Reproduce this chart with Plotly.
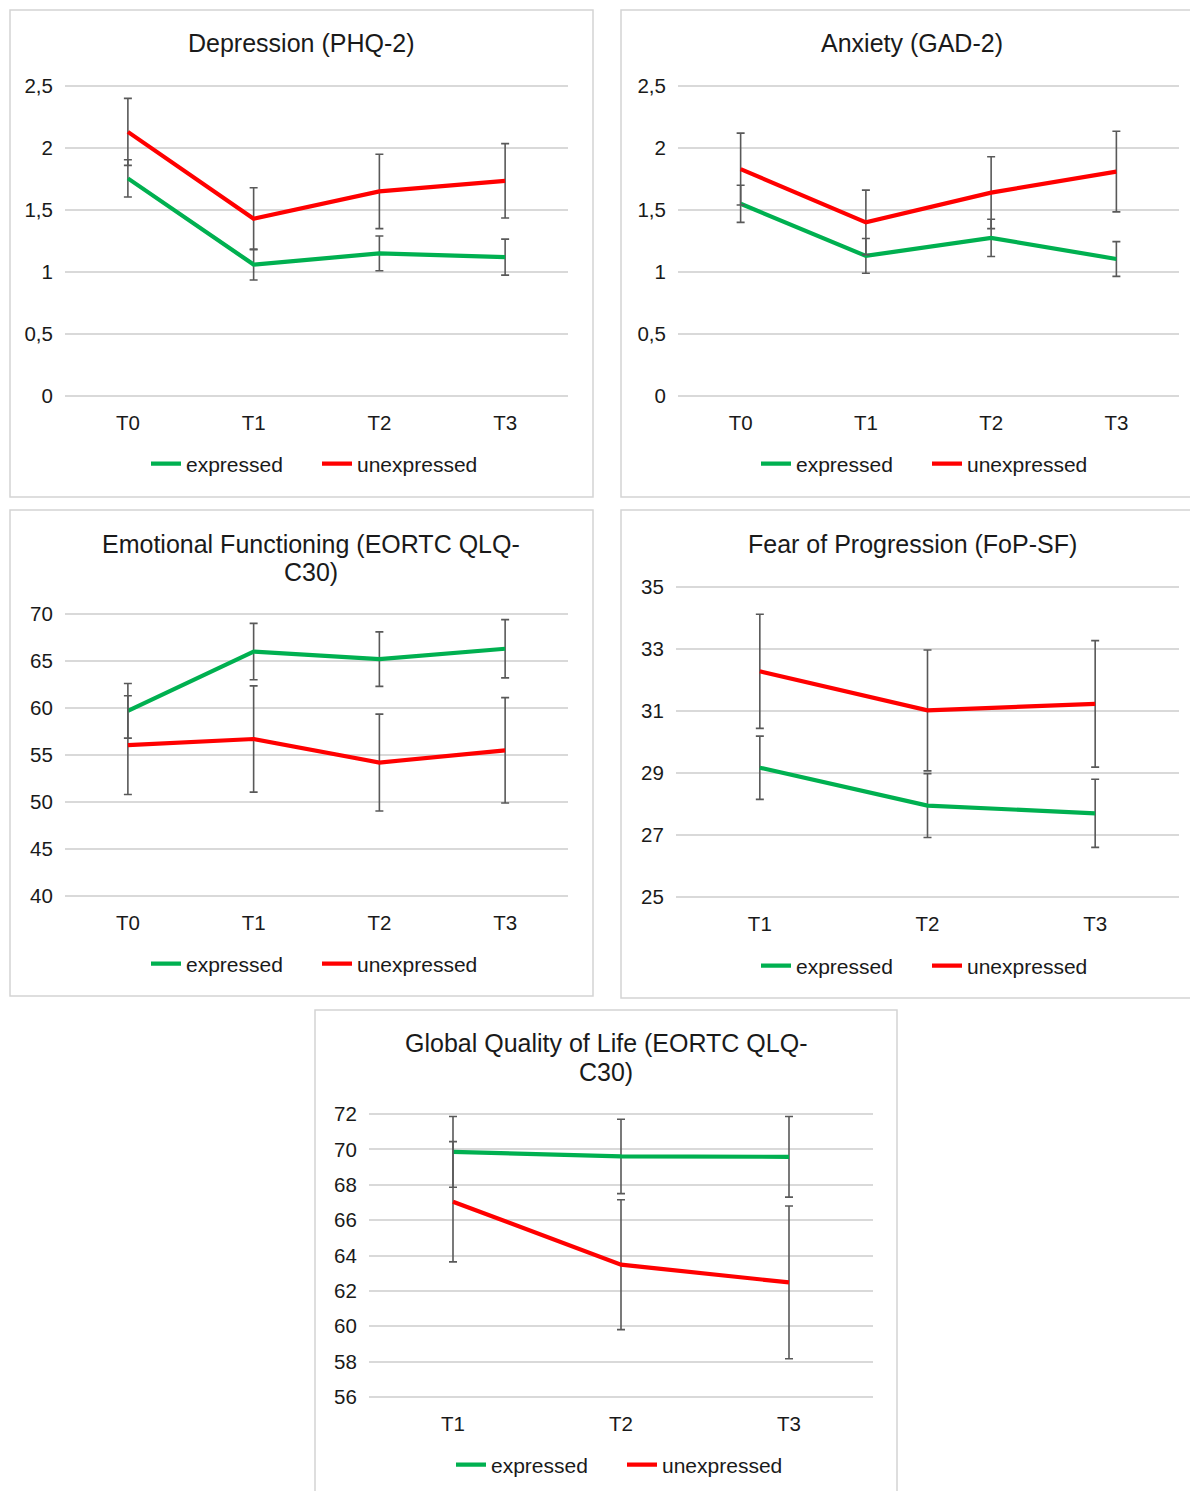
import plotly.graph_objects as go

W, H = 1190, 1491

# ---------------- data ----------------
times4 = ["T0", "T1", "T2", "T3"]
times3 = ["T1", "T2", "T3"]

dep_expressed = [1.755, 1.06, 1.15, 1.12]
dep_expressed_err = [0.15, 0.125, 0.14, 0.145]
dep_unexpressed = [2.13, 1.43, 1.65, 1.735]
dep_unexpressed_err = [0.27, 0.25, 0.30, 0.30]

anx_expressed = [1.55, 1.13, 1.275, 1.105]
anx_expressed_err = [0.15, 0.14, 0.15, 0.14]
anx_unexpressed = [1.83, 1.40, 1.64, 1.81]
anx_unexpressed_err = [0.29, 0.26, 0.29, 0.325]

emo_expressed = [59.7, 66.0, 65.2, 66.3]
emo_expressed_err = [2.9, 3.0, 2.9, 3.1]
emo_unexpressed = [56.05, 56.7, 54.2, 55.5]
emo_unexpressed_err = [5.25, 5.65, 5.15, 5.6]

fop_expressed = [29.17, 27.95, 27.7]
fop_expressed_err = [1.02, 1.03, 1.1]
fop_unexpressed = [32.28, 31.02, 31.23]
fop_unexpressed_err = [1.84, 1.95, 2.04]

qol_expressed = [69.86, 69.6, 69.58]
qol_expressed_err = [2.0, 2.1, 2.28]
qol_unexpressed = [67.04, 63.48, 62.48]
qol_unexpressed_err = [3.4, 3.67, 4.32]

titles = [
    ["Depression (PHQ-2)"],
    ["Anxiety (GAD-2)"],
    ["Emotional Functioning (EORTC QLQ-", "C30)"],
    ["Fear of Progression (FoP-SF)"],
    ["Global Quality of Life (EORTC QLQ-", "C30)"],
]
series_names = ["expressed", "unexpressed"]
colors = ["#00B050", "#FF0000"]

# ---------------- layout geometry (pixels) ----------------
panels = [
    dict(cats=times4, data=[(dep_expressed, dep_expressed_err), (dep_unexpressed, dep_unexpressed_err)],
         box=(10, 10, 593, 497), px=(65, 568), py=(86, 396), yr=(0, 2.5), dt=0.5,
         title_y=[43], title_x=301, leg_x=317, leg_y=464),
    dict(cats=times4, data=[(anx_expressed, anx_expressed_err), (anx_unexpressed, anx_unexpressed_err)],
         box=(621, 10, 1210, 497), px=(678, 1179), py=(86, 396), yr=(0, 2.5), dt=0.5,
         title_y=[43], title_x=912, leg_x=927, leg_y=464),
    dict(cats=times4, data=[(emo_expressed, emo_expressed_err), (emo_unexpressed, emo_unexpressed_err)],
         box=(10, 510, 593, 996), px=(65, 568), py=(614, 896), yr=(40, 70), dt=5,
         title_y=[544, 572], title_x=311, leg_x=317, leg_y=964),
    dict(cats=times3, data=[(fop_expressed, fop_expressed_err), (fop_unexpressed, fop_unexpressed_err)],
         box=(621, 510, 1210, 998), px=(676, 1179), py=(587, 897), yr=(25, 35), dt=2,
         title_y=[544], title_x=912, leg_x=927, leg_y=966),
    dict(cats=times3, data=[(qol_expressed, qol_expressed_err), (qol_unexpressed, qol_unexpressed_err)],
         box=(315, 1010, 897, 1500), px=(369, 873), py=(1114, 1397), yr=(56, 72), dt=2,
         title_y=[1043, 1072], title_x=606, leg_x=622, leg_y=1465),
]

FONT = "Liberation Sans, Arial, Helvetica, sans-serif"
PAD = 2.0  # px of extra room so the edge gridlines are drawn
fig = go.Figure()
shapes, annotations = [], []
layout_extra = {}

for i, p in enumerate(panels):
    n = i + 1
    sfx = "" if n == 1 else str(n)
    leg = "legend" if n == 1 else f"legend{n}"
    for (vals, errs), name, col in zip(p["data"], series_names, colors):
        fig.add_trace(go.Scatter(
            x=p["cats"], y=vals, name=name, mode="lines",
            line=dict(color=col, width=4.2),
            error_y=dict(type="data", array=errs, visible=True,
                         color="#595959", thickness=1.6, width=4),
            xaxis="x" + sfx, yaxis="y" + sfx, legend=leg,
        ))
    x0, x1 = p["px"]
    y0, y1 = p["py"]
    lo, hi = p["yr"]
    upp = (hi - lo) / (y1 - y0)  # units per pixel
    layout_extra["xaxis" + sfx] = dict(
        domain=[x0 / W, x1 / W], anchor="y" + sfx, type="category",
        range=[-0.5, len(p["cats"]) - 0.5], showgrid=False, zeroline=False,
        showline=False, ticks="outside", ticklen=4 + PAD, tickcolor="rgba(0,0,0,0)",
        tickfont=dict(size=20.5, color="#1a1a1a", family=FONT), fixedrange=True,
    )
    layout_extra["yaxis" + sfx] = dict(
        domain=[1 - (y1 + PAD) / H, 1 - (y0 - PAD) / H], anchor="x" + sfx,
        range=[lo - PAD * upp, hi + PAD * upp], dtick=p["dt"], tick0=lo,
        showgrid=True, gridcolor="#d9d9d9", gridwidth=1.5, zeroline=False,
        showline=False, ticks="outside", ticklen=7, tickcolor="rgba(0,0,0,0)",
        tickfont=dict(size=20.5, color="#1a1a1a", family=FONT), fixedrange=True,
    )
    layout_extra[leg] = dict(
        orientation="h", x=p["leg_x"] / W, y=1 - p["leg_y"] / H,
        xanchor="center", yanchor="middle", bgcolor="rgba(0,0,0,0)",
        font=dict(size=21, color="#1a1a1a", family=FONT),
        itemwidth=30, tracegroupgap=0, entrywidth=126,
    )
    bx0, by0, bx1, by1 = p["box"]
    shapes.append(dict(type="rect", xref="paper", yref="paper",
                       x0=bx0 / W, x1=bx1 / W, y0=1 - by1 / H, y1=1 - by0 / H,
                       line=dict(color="#d4d4d4", width=1.5), layer="below"))
    for line_text, ty in zip(titles[i], p["title_y"]):
        annotations.append(dict(text=line_text, xref="paper", yref="paper",
                                x=p["title_x"] / W, y=1 - ty / H,
                                xanchor="center", yanchor="middle", showarrow=False,
                                font=dict(size=25, color="#1a1a1a", family=FONT)))

fig.update_layout(
    width=W, height=H, autosize=False,
    margin=dict(l=0, r=0, t=0, b=0, autoexpand=False),
    paper_bgcolor="white", plot_bgcolor="white",
    separators=", ",
    shapes=shapes, annotations=annotations,
    showlegend=True,
    **layout_extra,
)

fig.write_html(
    "out.html",
    config={"displayModeBar": False},
    post_script=(
        "document.documentElement.style.margin='0';"
        "document.body.style.margin='0';document.body.style.padding='0';"
        "document.documentElement.style.overflow='hidden';"
    ),
)
